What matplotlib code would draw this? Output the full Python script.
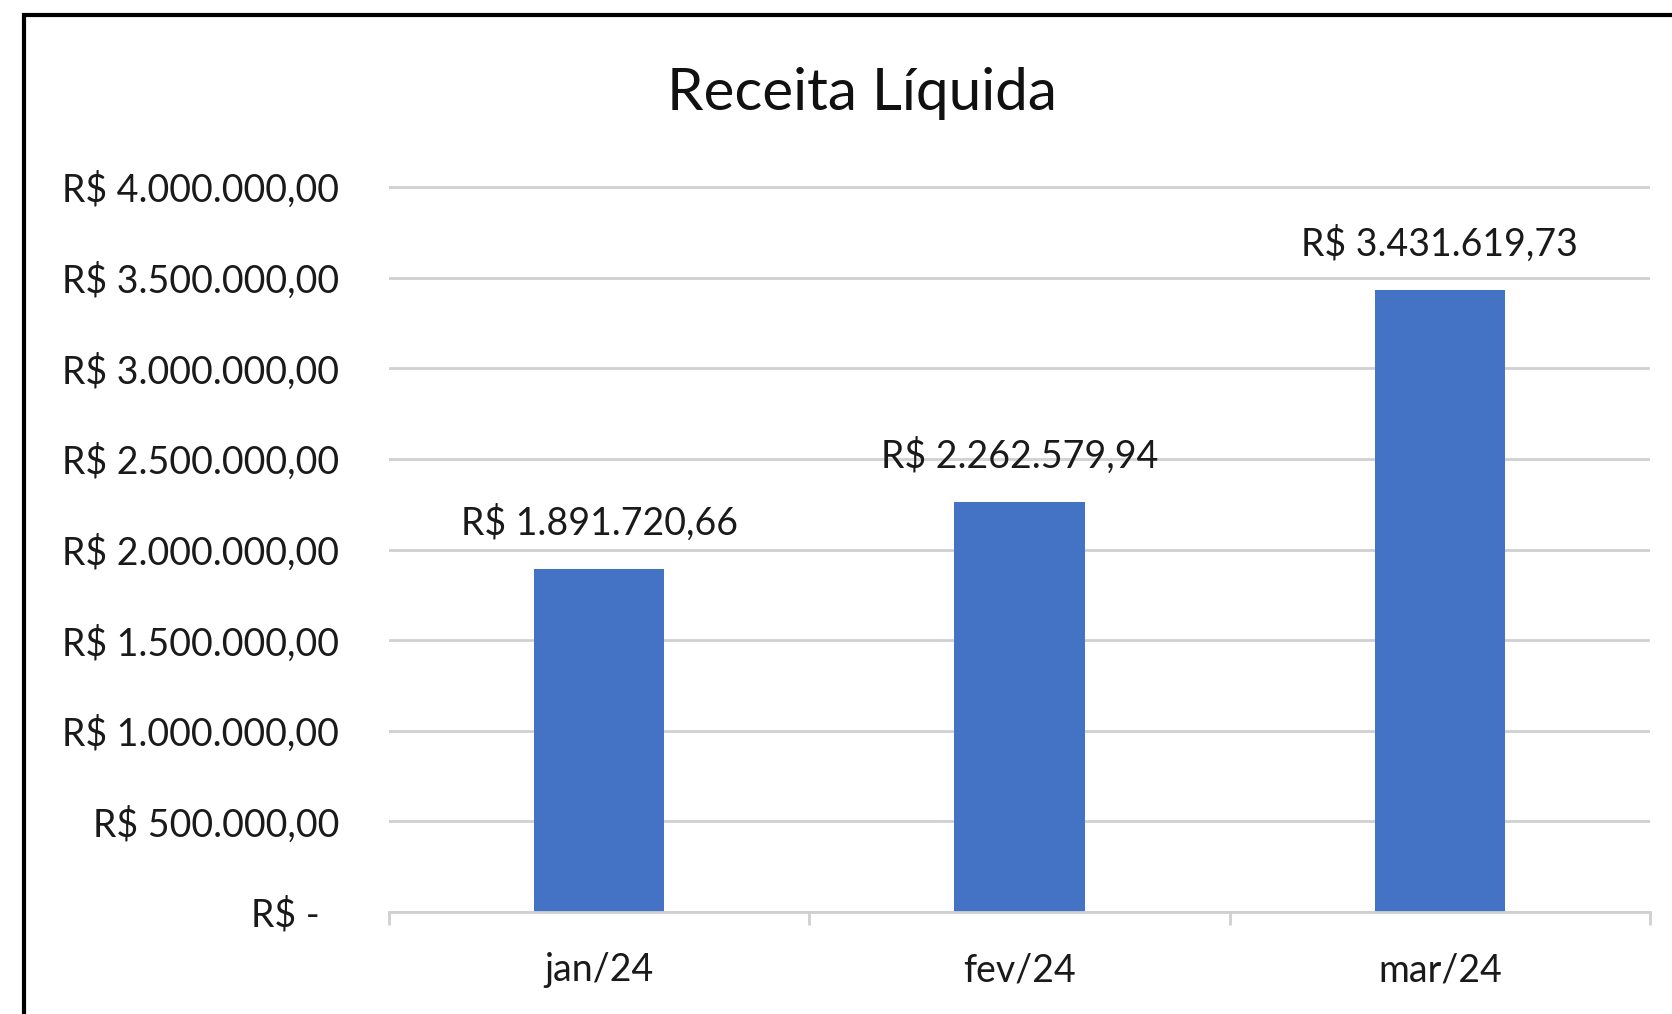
import matplotlib.pyplot as plt
from matplotlib.patches import Rectangle
from matplotlib.ticker import FuncFormatter, FixedLocator

plt.rcParams['font.family'] = ['Lato', 'DejaVu Sans']

meses = ['jan/24', 'fev/24', 'mar/24']
receita = [1891720.66, 2262579.94, 3431619.73]
y_ticks = [0, 500000, 1000000, 1500000, 2000000, 2500000, 3000000, 3500000, 4000000]


def brl(v):
    # formato contábil brasileiro: R$ 1.234.567,89
    s = f'{v:,.2f}'
    return 'R$ ' + s.replace(',', 'X').replace('.', ',').replace('X', '.')


def tick_fmt(v, pos):
    if v == 0:
        return 'R$ -  '
    return brl(v)


W, H = 1672, 1014
fig = plt.figure(figsize=(W / 100, H / 100), dpi=100)

# moldura preta (cortada à direita e embaixo como no print)
fig.patches.append(Rectangle((24 / W, -0.05), 1.2, 1 - 15 / H + 0.05,
                             transform=fig.transFigure, fill=False,
                             edgecolor='black', linewidth=3))

ymax = 4.05e6
px_per = (912 - 187) / 4e6
top_px = 912 - ymax * px_per
ax = fig.add_axes([389 / W, 1 - 912 / H, (1650 - 389) / W, (912 - top_px) / H])

x = range(len(meses))
bars = ax.bar(x, receita, width=0.31, color='#4472C4', zorder=3)

for b, v in zip(bars, receita):
    ax.text(b.get_x() + b.get_width() / 2, v + 46 / px_per, brl(v),
            ha='center', va='center', fontsize=27, color='#1a1a1a')

ax.set_xlim(-0.5, 2.5)
ax.set_ylim(0, ymax)
ax.yaxis.set_major_locator(FixedLocator(y_ticks))
ax.yaxis.set_major_formatter(FuncFormatter(tick_fmt))
ax.grid(axis='y', color='#d0d0d0', linewidth=2, zorder=0)

ax.set_xticks(list(x))
ax.set_xticklabels(meses)
ax.set_xticks([-0.5, 0.5, 1.5, 2.5], minor=True)
ax.tick_params(axis='x', which='major', length=0, pad=29, labelsize=27, labelcolor='#1a1a1a')
ax.tick_params(axis='x', which='minor', length=9, width=2, color='#d0d0d0', direction='out')
ax.tick_params(axis='y', length=0, pad=36, labelsize=27, labelcolor='#1a1a1a')

for s in ['top', 'right', 'left']:
    ax.spines[s].set_visible(False)
ax.spines['bottom'].set_color('#d0d0d0')
ax.spines['bottom'].set_linewidth(2)
ax.spines['bottom'].set_zorder(4)

fig.text(862 / W, 1 - 93 / H, 'Receita Líquida', ha='center', va='center',
         fontsize=42, color='#111111')

fig.savefig('out.png', dpi=100)
